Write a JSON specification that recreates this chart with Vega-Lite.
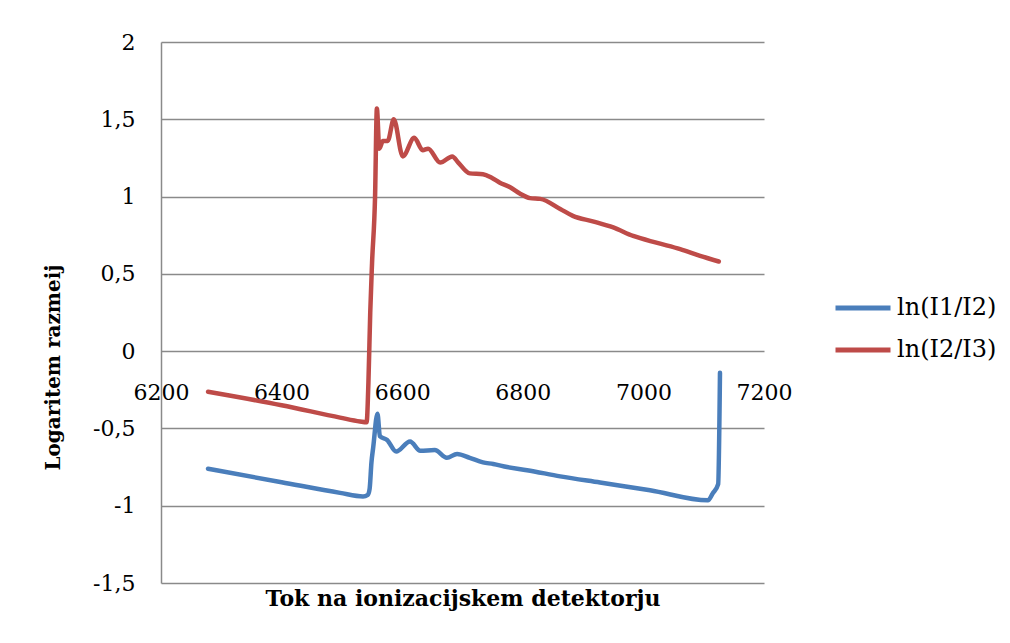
{
  "$schema": "https://vega.github.io/schema/vega-lite/v6.json",
  "width": 603,
  "height": 541,
  "autosize": {"type": "none"},
  "padding": {"left": 161, "top": 42, "right": 246, "bottom": 60},
  "background": "white",
  "config": {"view": {"stroke": null}, "font": "DejaVu Serif"},
  "data": {
    "values": [
      {"x": 6278, "y": -0.263, "series": "ln(I2/I3)"},
      {"x": 6400, "y": -0.35, "series": "ln(I2/I3)"},
      {"x": 6497, "y": -0.43, "series": "ln(I2/I3)"},
      {"x": 6530, "y": -0.455, "series": "ln(I2/I3)"},
      {"x": 6541, "y": -0.46, "series": "ln(I2/I3)"},
      {"x": 6544, "y": -0.2, "series": "ln(I2/I3)"},
      {"x": 6547, "y": 0.25, "series": "ln(I2/I3)"},
      {"x": 6550, "y": 0.57, "series": "ln(I2/I3)"},
      {"x": 6555, "y": 1.0, "series": "ln(I2/I3)"},
      {"x": 6558, "y": 1.57, "series": "ln(I2/I3)"},
      {"x": 6562, "y": 1.31, "series": "ln(I2/I3)"},
      {"x": 6568, "y": 1.36, "series": "ln(I2/I3)"},
      {"x": 6576, "y": 1.36, "series": "ln(I2/I3)"},
      {"x": 6586, "y": 1.5, "series": "ln(I2/I3)"},
      {"x": 6601, "y": 1.26, "series": "ln(I2/I3)"},
      {"x": 6620, "y": 1.38, "series": "ln(I2/I3)"},
      {"x": 6634, "y": 1.3, "series": "ln(I2/I3)"},
      {"x": 6643, "y": 1.31, "series": "ln(I2/I3)"},
      {"x": 6663, "y": 1.22, "series": "ln(I2/I3)"},
      {"x": 6683, "y": 1.26, "series": "ln(I2/I3)"},
      {"x": 6693, "y": 1.22, "series": "ln(I2/I3)"},
      {"x": 6712, "y": 1.15, "series": "ln(I2/I3)"},
      {"x": 6734, "y": 1.145, "series": "ln(I2/I3)"},
      {"x": 6749, "y": 1.12, "series": "ln(I2/I3)"},
      {"x": 6762, "y": 1.09, "series": "ln(I2/I3)"},
      {"x": 6779, "y": 1.06, "series": "ln(I2/I3)"},
      {"x": 6795, "y": 1.02, "series": "ln(I2/I3)"},
      {"x": 6812, "y": 0.99, "series": "ln(I2/I3)"},
      {"x": 6829, "y": 0.985, "series": "ln(I2/I3)"},
      {"x": 6862, "y": 0.92, "series": "ln(I2/I3)"},
      {"x": 6883, "y": 0.875, "series": "ln(I2/I3)"},
      {"x": 6916, "y": 0.84, "series": "ln(I2/I3)"},
      {"x": 6950, "y": 0.8, "series": "ln(I2/I3)"},
      {"x": 6983, "y": 0.745, "series": "ln(I2/I3)"},
      {"x": 7023, "y": 0.7, "series": "ln(I2/I3)"},
      {"x": 7061, "y": 0.66, "series": "ln(I2/I3)"},
      {"x": 7094, "y": 0.617, "series": "ln(I2/I3)"},
      {"x": 7125, "y": 0.58, "series": "ln(I2/I3)"},
      {"x": 6278, "y": -0.761, "series": "ln(I1/I2)"},
      {"x": 6400, "y": -0.848, "series": "ln(I1/I2)"},
      {"x": 6497, "y": -0.917, "series": "ln(I1/I2)"},
      {"x": 6535, "y": -0.94, "series": "ln(I1/I2)"},
      {"x": 6543, "y": -0.93, "series": "ln(I1/I2)"},
      {"x": 6546, "y": -0.89, "series": "ln(I1/I2)"},
      {"x": 6549, "y": -0.72, "series": "ln(I1/I2)"},
      {"x": 6552, "y": -0.62, "series": "ln(I1/I2)"},
      {"x": 6559, "y": -0.405, "series": "ln(I1/I2)"},
      {"x": 6563, "y": -0.55, "series": "ln(I1/I2)"},
      {"x": 6575, "y": -0.575, "series": "ln(I1/I2)"},
      {"x": 6590, "y": -0.65, "series": "ln(I1/I2)"},
      {"x": 6613, "y": -0.585, "series": "ln(I1/I2)"},
      {"x": 6630, "y": -0.645, "series": "ln(I1/I2)"},
      {"x": 6654, "y": -0.64, "series": "ln(I1/I2)"},
      {"x": 6674, "y": -0.69, "series": "ln(I1/I2)"},
      {"x": 6691, "y": -0.665, "series": "ln(I1/I2)"},
      {"x": 6712, "y": -0.69, "series": "ln(I1/I2)"},
      {"x": 6734, "y": -0.72, "series": "ln(I1/I2)"},
      {"x": 6751, "y": -0.73, "series": "ln(I1/I2)"},
      {"x": 6774, "y": -0.75, "series": "ln(I1/I2)"},
      {"x": 6807, "y": -0.77, "series": "ln(I1/I2)"},
      {"x": 6862, "y": -0.81, "series": "ln(I1/I2)"},
      {"x": 6928, "y": -0.85, "series": "ln(I1/I2)"},
      {"x": 7011, "y": -0.9, "series": "ln(I1/I2)"},
      {"x": 7107, "y": -0.965, "series": "ln(I1/I2)"},
      {"x": 7115, "y": -0.92, "series": "ln(I1/I2)"},
      {"x": 7124, "y": -0.86, "series": "ln(I1/I2)"},
      {"x": 7127, "y": -0.14, "series": "ln(I1/I2)"}
    ]
  },
  "mark": {"type": "line", "strokeWidth": 4.5, "strokeCap": "round", "strokeJoin": "round", "interpolate": "monotone"},
  "encoding": {
    "x": {
      "field": "x",
      "type": "quantitative",
      "scale": {"domain": [6200, 7200], "nice": false, "zero": false},
      "axis": {
        "values": [6200, 6400, 6600, 6800, 7000, 7200],
        "format": "d",
        "offset": -232,
        "grid": false,
        "ticks": false,
        "domain": false,
        "labelFont": "DejaVu Serif",
        "labelFontSize": 22,
        "labelColor": "black",
        "labelPadding": 31,
        "labelFlush": false,
        "title": "Tok na ionizacijskem detektorju",
        "titleFont": "DejaVu Serif",
        "titleFontSize": 22,
        "titleFontWeight": "bold",
        "titleColor": "black",
        "titleBaseline": "top",
        "titleY": 237
      }
    },
    "y": {
      "field": "y",
      "type": "quantitative",
      "scale": {"domain": [-1.5, 2], "nice": false, "zero": false},
      "axis": {
        "values": [-1.5, -1, -0.5, 0, 0.5, 1, 1.5, 2],
        "labelExpr": "replace(toString(datum.value), '.', ',')",
        "grid": true,
        "gridColor": "#8a8a8a",
        "gridWidth": 1.5,
        "domainColor": "#8a8a8a",
        "domainWidth": 1.5,
        "ticks": false,
        "labelPadding": 26,
        "labelFont": "DejaVu Serif",
        "labelFontSize": 22,
        "labelColor": "black",
        "title": "Logaritem razmeij",
        "titleFont": "DejaVu Serif",
        "titleFontSize": 20,
        "titleFontWeight": "bold",
        "titleColor": "black",
        "titleAngle": -90,
        "titleBaseline": "middle",
        "titleAlign": "center",
        "titleX": -108,
        "titleY": 325
      }
    },
    "color": {
      "field": "series",
      "type": "nominal",
      "scale": {"domain": ["ln(I1/I2)", "ln(I2/I3)"], "range": ["#4A7EBB", "#BE4B48"]},
      "legend": {
        "orient": "none",
        "legendX": 672,
        "legendY": 236,
        "title": null,
        "symbolType": "stroke",
        "symbolSize": 3025,
        "symbolStrokeWidth": 5,
        "labelFontSize": 24,
        "labelFont": "DejaVu Serif",
        "labelColor": "black",
        "labelOffset": 4,
        "rowPadding": -5
      }
    }
  }
}
